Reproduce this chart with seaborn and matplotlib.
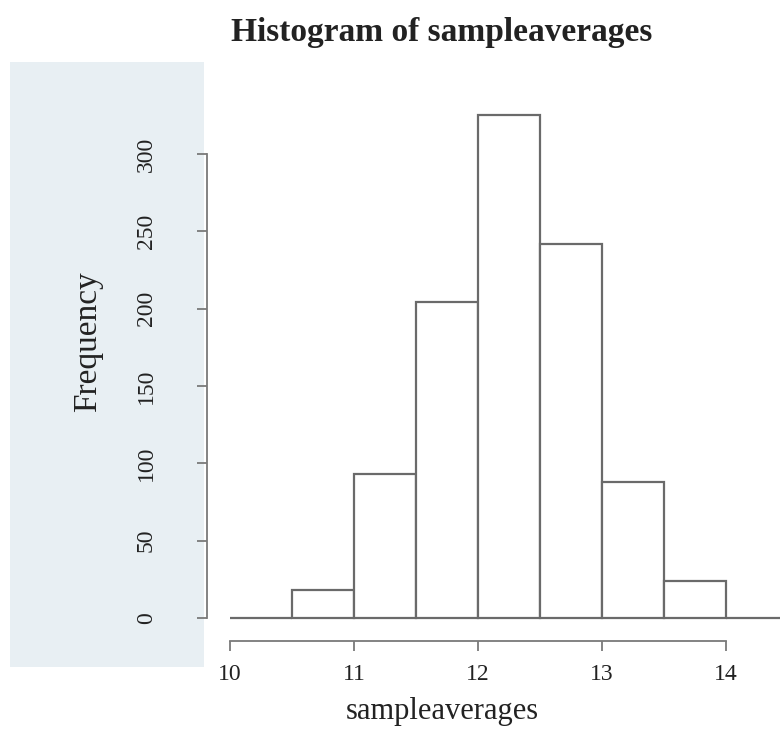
import numpy as np
import pandas as pd
import seaborn as sns
import matplotlib.pyplot as plt
from matplotlib.patches import Rectangle

# Histogram bins and counts of the sample averages
bin_edges = [10.0, 10.5, 11.0, 11.5, 12.0, 12.5, 13.0, 13.5, 14.0, 14.5]
frequencies = [0, 18, 93, 204, 325, 242, 88, 24, 0]
x_ticks = [10, 11, 12, 13, 14]
y_ticks = [0, 50, 100, 150, 200, 250, 300]

bin_mids = [(a + b) / 2 for a, b in zip(bin_edges[:-1], bin_edges[1:])]
df = pd.DataFrame({"sampleaverages": bin_mids, "count": frequencies})

sns.set_theme(style="white")
plt.rcParams["font.family"] = ["Liberation Serif", "DejaVu Serif"]

W, H = 780, 742
fig = plt.figure(figsize=(W / 100, H / 100), dpi=100)
fig.patch.set_facecolor("white")

# light panel behind the frequency axis
fig.patches.append(Rectangle((10 / W, 1 - 667 / H), 194 / W, 605 / H,
                             transform=fig.transFigure, facecolor="#e8eff3",
                             edgecolor="none", zorder=-5))

ax = fig.add_axes([200 / W, 1 - 648 / H, 580 / W, 553 / H])
ax.set_zorder(2)
ax.patch.set_alpha(0)

sns.histplot(data=df, x="sampleaverages", weights="count", bins=bin_edges,
             ax=ax, color="white", edgecolor="#6a6a6a", linewidth=1.6,
             alpha=1)

ax.set_xlim(9.758, 14.435)
ax.set_ylim(-19.39, 338.1)

axis_grey = "#7a7a7a"
for side in ("top", "right"):
    ax.spines[side].set_visible(False)
ax.spines["left"].set_position(("data", 9.8145))
ax.spines["left"].set_bounds(0, 300)
ax.spines["bottom"].set_position(("data", -14.87))
ax.spines["bottom"].set_bounds(10, 14)
for side in ("left", "bottom"):
    ax.spines[side].set_color(axis_grey)
    ax.spines[side].set_linewidth(1.3)

ax.set_xticks(x_ticks)
ax.set_xticklabels([str(t) for t in x_ticks])
ax.set_yticks(y_ticks)
ax.set_yticklabels([str(t) for t in y_ticks], rotation=90, va="center")
ax.tick_params(axis="both", direction="out", length=7.2, width=1.3,
               color=axis_grey, labelsize=17, labelcolor="#222222",
               bottom=True, left=True)
ax.tick_params(axis="y", pad=29)
ax.tick_params(axis="x", pad=9)

ax.set_ylabel("Frequency", fontsize=24, color="#222222", va="center")
ax.yaxis.set_label_coords((88 - 200) / 580, (648 - 342) / 553)
ax.set_xlabel("sampleaverages", fontsize=22, color="#222222", va="center")
ax.xaxis.set_label_coords((442 - 200) / 580, (648 - 712) / 553)

ax.set_title("Histogram of sampleaverages", fontsize=24, fontweight="bold",
             color="#222222", x=(442 - 200) / 580, y=(648 - 33) / 553,
             va="center", pad=0)

fig.savefig("out.png", dpi=100)
